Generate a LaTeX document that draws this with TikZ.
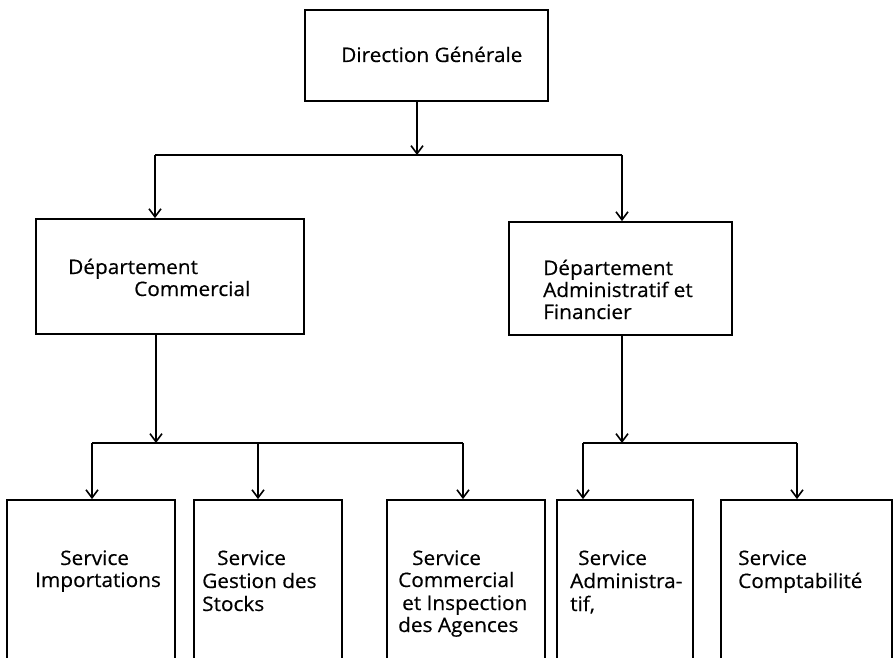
\documentclass[tikz,border=0pt]{standalone}
\usepackage{fontspec}
\setmainfont{Open Sans}[FakeStretch=1.04,FakeBold=0.4]
\usetikzlibrary{arrows.meta}
\begin{document}
\begin{tikzpicture}[x=1pt,y=-1pt,
  box/.style={draw, line width=1.8pt, rectangle, inner sep=0pt},
  lbl/.style={anchor=base west, inner sep=0pt, font=\fontsize{20}{23}\selectfont},
  link/.style={line width=1.8pt},
  arr/.style={line width=1.8pt, -{Straight Barb[length=8pt,width=12pt,line width=1.6pt]}}]
\useasboundingbox (0,0) rectangle (895,658);
\clip (0,0) rectangle (895,658);
% boxes
\node[box, minimum width=243pt, minimum height=91pt] (dg) at (426.5,55.5) {};
\node[box, minimum width=268pt, minimum height=115pt] (dc) at (170,276.5) {};
\node[box, minimum width=223pt, minimum height=113pt] (da) at (620.5,278.5) {};
\node[box, minimum width=168pt, minimum height=220pt] (s1) at (91,610) {};
\node[box, minimum width=148pt, minimum height=220pt] (s2) at (268,610) {};
\node[box, minimum width=158pt, minimum height=220pt] (s3) at (466,610) {};
\node[box, minimum width=136pt, minimum height=220pt] (s4) at (625,610) {};
\node[box, minimum width=171pt, minimum height=220pt] (s5) at (806.5,610) {};
% labels
\node[lbl] (tdg) at (341,62) {Direction Générale};
\node[lbl] (tdc1) at (68,274) {Département};
\node[lbl] (tdc2) at (134,296) {Commercial};
\node[lbl] (tda1) at (543,275) {Département};
\node[lbl] (tda2) at (543,297) {Administratif et};
\node[lbl] (tda3) at (543,319) {Financier};
\node[lbl] (ts1a) at (60,565) {Service};
\node[lbl] (ts1b) at (35,587) {Importations};
\node[lbl] (ts2a) at (217,565) {Service};
\node[lbl] (ts2b) at (202,588) {Gestion des};
\node[lbl] (ts2c) at (202,611) {Stocks};
\node[lbl] (ts3a) at (412,565) {Service};
\node[lbl] (ts3b) at (398,587) {Commercial};
\node[lbl] (ts3c) at (402,610) {et Inspection};
\node[lbl] (ts3d) at (398,632) {des Agences};
\node[lbl] (ts4a) at (578,565) {Service};
\node[lbl] (ts4b) at (570,588) {Administra-};
\node[lbl] (ts4c) at (570,611) {tif,};
\node[lbl] (ts5a) at (738,565) {Service};
\node[lbl] (ts5b) at (738,588) {Comptabilité};
% junctions
\coordinate (j1) at (417,155);
\coordinate (b1l) at (155,155);
\coordinate (b1r) at (622,155);
\coordinate (j2) at (156,443);
\coordinate (b2l) at (92,443);
\coordinate (b2m) at (258,443);
\coordinate (b2r) at (463,443);
\coordinate (j3) at (622,443);
\coordinate (b3l) at (583,443);
\coordinate (b3r) at (797,443);
% connectors
\draw[arr] (j1 |- dg.south) -- (j1);
\draw[link] (b1l) -- (b1r);
\draw[arr] (b1l) -- (b1l |- dc.north);
\draw[arr] (b1r) -- (b1r |- da.north);
\draw[arr] (j2 |- dc.south) -- (j2);
\draw[link] (b2l) -- (b2r);
\draw[arr] (b2l) -- (b2l |- s1.north);
\draw[arr] (b2m) -- (b2m |- s2.north);
\draw[arr] (b2r) -- (b2r |- s3.north);
\draw[arr] (j3 |- da.south) -- (j3);
\draw[link] (b3l) -- (b3r);
\draw[arr] (b3l) -- (b3l |- s4.north);
\draw[arr] (b3r) -- (b3r |- s5.north);
\end{tikzpicture}
\end{document}
